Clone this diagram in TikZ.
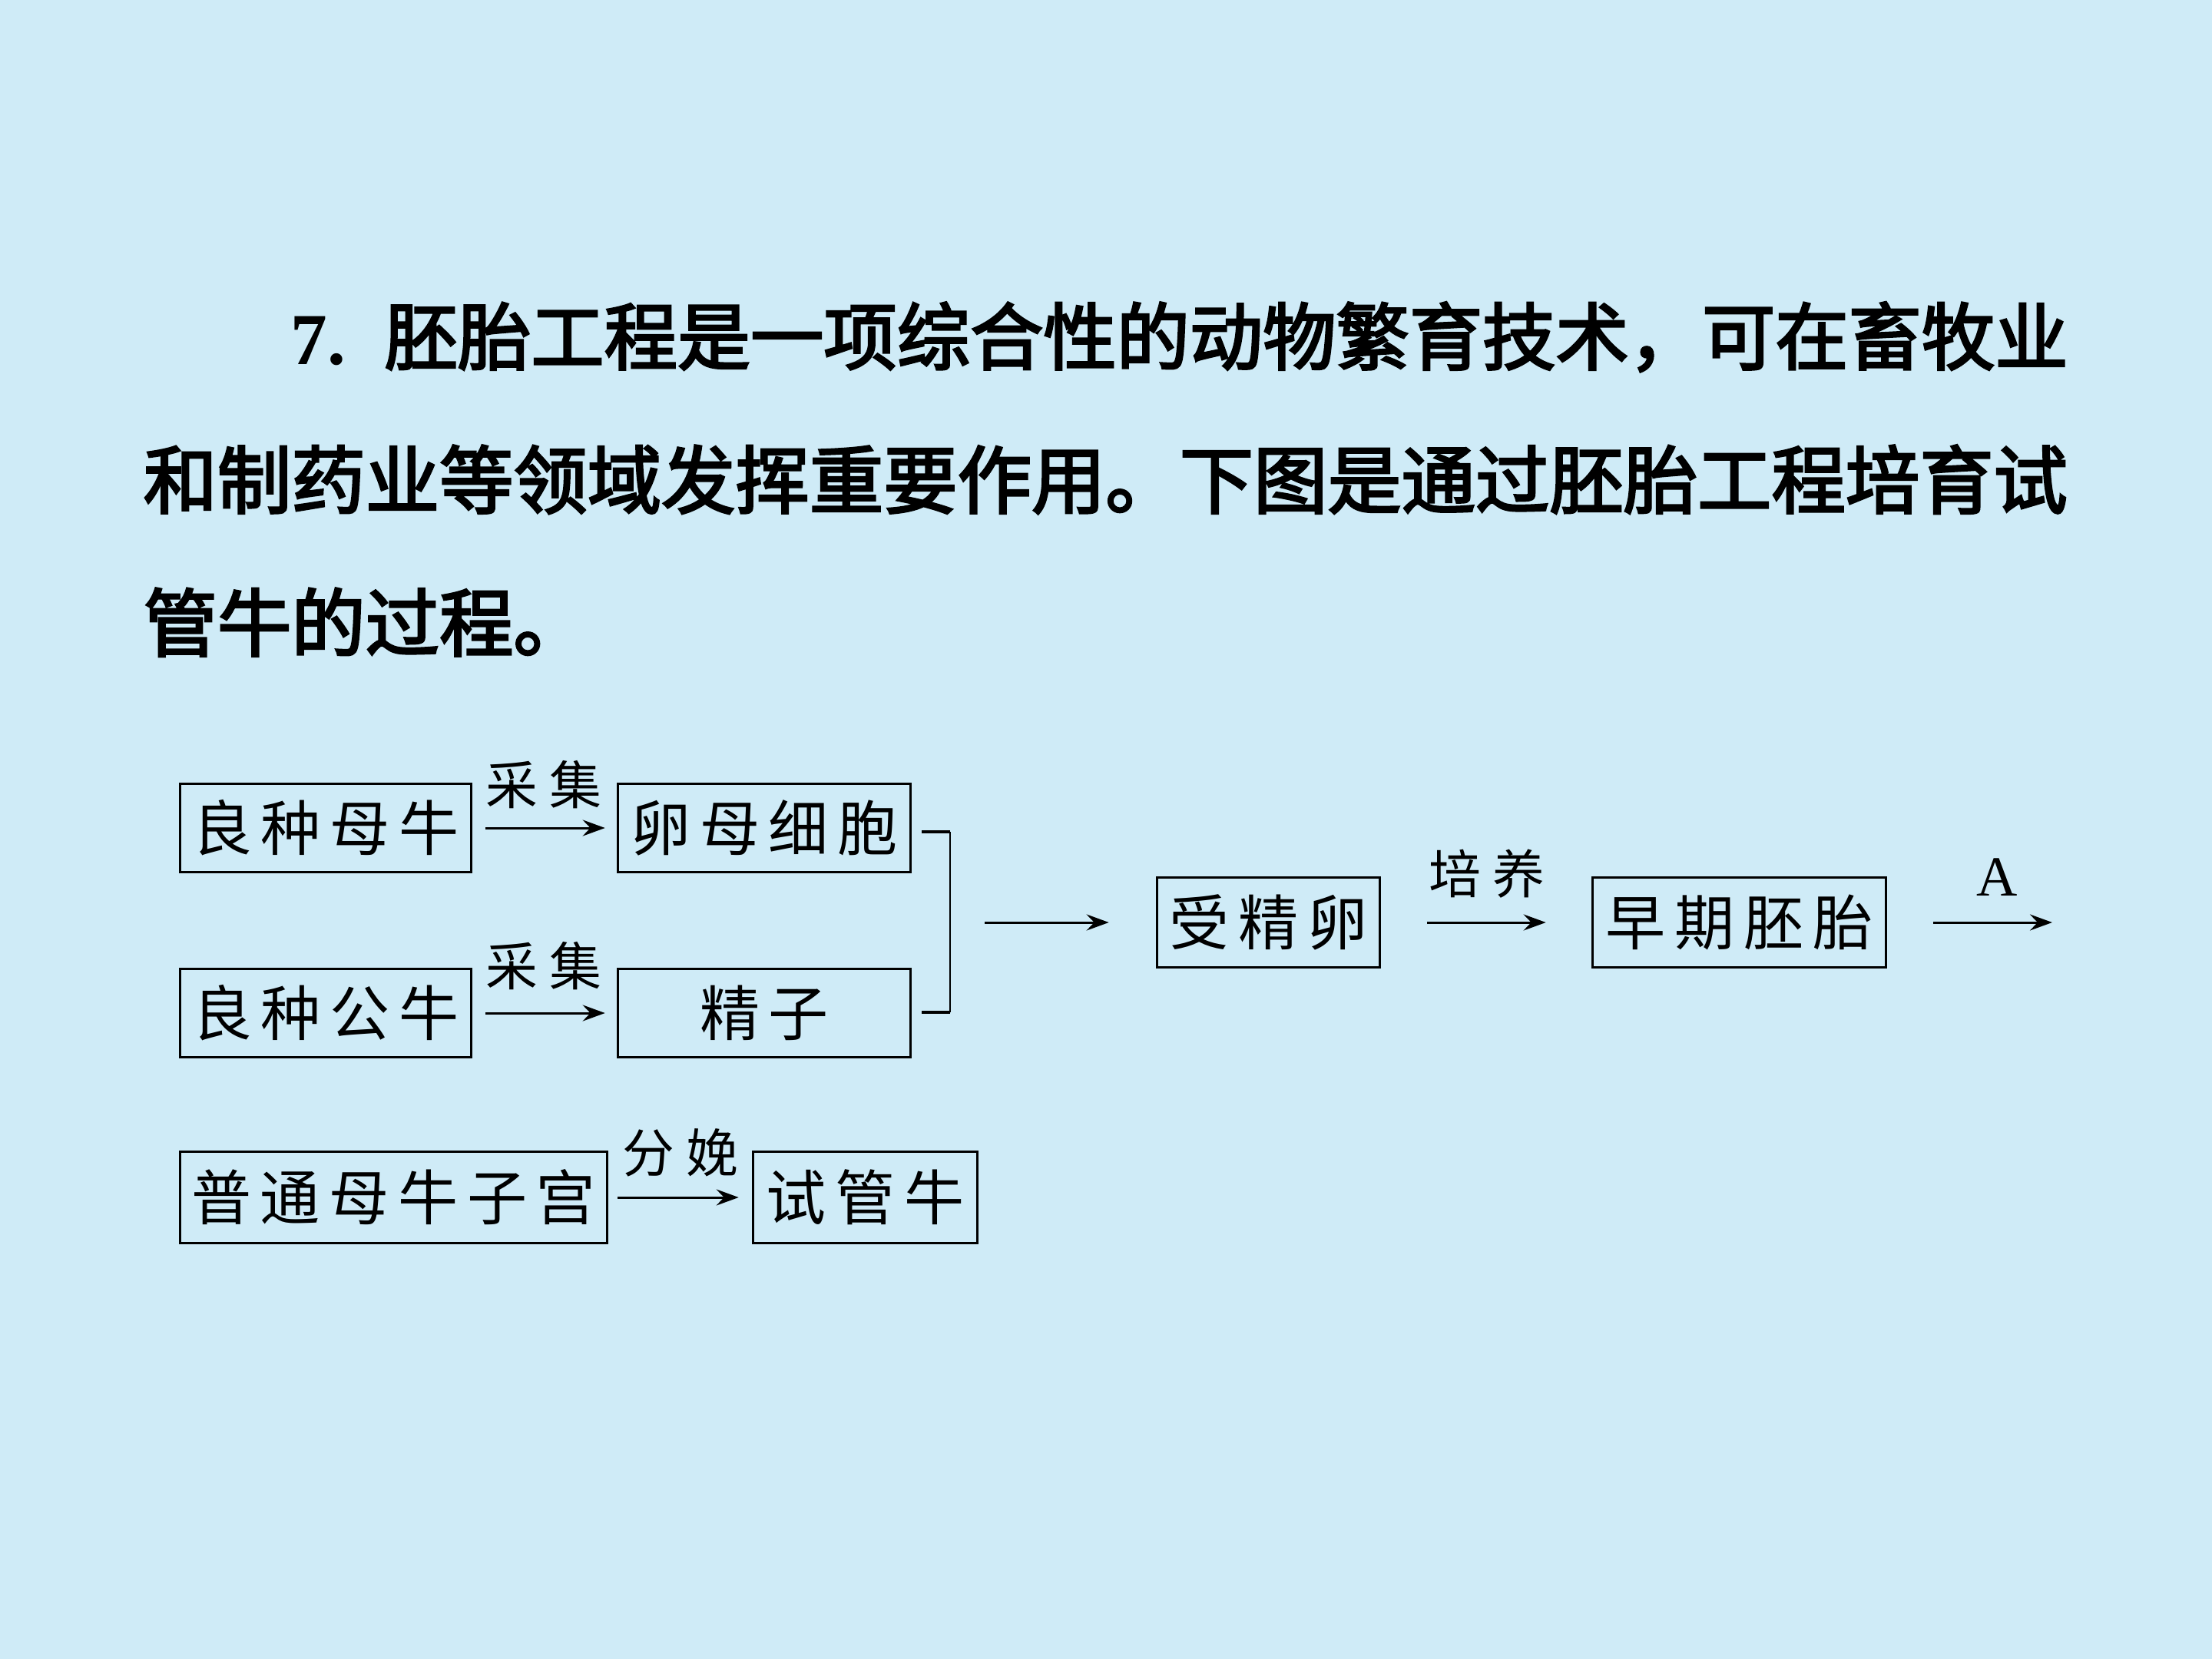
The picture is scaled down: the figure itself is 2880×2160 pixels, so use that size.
\documentclass[tikz,border=0pt]{standalone}
\usepackage{fontspec}
\newfontfamily\cjk{Noto Sans CJK SC}
\newfontfamily\cjkhead{Noto Sans CJK SC}[FakeBold=3]
\newfontfamily\serifA{Liberation Serif}
\usetikzlibrary{arrows.meta,calc}
\definecolor{bgblue}{RGB}{207,235,247}
\newcommand\bxg{\hspace{0.15em}}
\newcommand\lbg{\hspace{0.23em}}
\begin{document}
\begin{tikzpicture}[x=0.01cm,y=-0.01cm,
  box/.style={draw=black, line width=0.95pt, inner sep=0pt, text=black,
    font=\cjk\fontsize{22.2pt}{22.2pt}\selectfont},
  lab/.style={inner sep=0pt, font=\cjk\fontsize{19.3pt}{19.3pt}\selectfont},
  head/.style={inner sep=0pt, anchor=base west, font=\cjkhead\fontsize{27.4pt}{27.4pt}\selectfont},
  arr/.style={-{Stealth[length=0.29cm,width=0.21cm,inset=0.1cm]}, line width=0.85pt},
  tick/.style={line width=1.4pt},
  bar/.style={line width=0.6pt}]
\fill[bgblue] (0,0) rectangle (2880,2160);
\useasboundingbox (0,0) rectangle (2880,2160);

% heading
\node[head, font=\cjkhead\fontsize{27.1pt}{27.1pt}\selectfont] (h1) at (378,474) {{\serifA\bfseries 7.}\hspace{0.53em}胚胎工程是一项综合性的动物繁育技术，可在畜牧业};
\node[head] (h2) at (186,661) {和制药业等领域发挥重要作用。下图是通过胚胎工程培育试};
\node[head] (h3) at (186,847) {管牛的过程。};

% boxes
\node[box, minimum width=3.79cm, minimum height=1.15cm] (b1) at (424,1078) {良\bxg 种\bxg 母\bxg 牛};
\node[box, minimum width=3.81cm, minimum height=1.15cm] (b2) at (995,1078) {卵\bxg 母\bxg 细\bxg 胞};
\node[box, minimum width=3.79cm, minimum height=1.15cm] (b3) at (424,1319) {良\bxg 种\bxg 公\bxg 牛};
\node[box, minimum width=3.81cm, minimum height=1.15cm] (b4) at (995,1319) {精\bxg 子};
\node[box, minimum width=2.90cm, minimum height=1.17cm] (b5) at (1651.5,1201) {受\bxg 精\bxg 卵};
\node[box, minimum width=3.82cm, minimum height=1.17cm] (b6) at (2264.5,1201) {早\bxg 期\bxg 胚\bxg 胎};
\node[box, minimum width=5.56cm, minimum height=1.19cm] (b7) at (512.5,1559) {普\bxg 通\bxg 母\bxg 牛\bxg 子\bxg 宫};
\node[box, minimum width=2.92cm, minimum height=1.19cm] (b8) at (1126.5,1559) {试\bxg 管\bxg 牛};

% arrow labels
\node[lab] (l1) at (708,1022) {采\lbg 集};
\node[lab] (l2) at (708,1258) {采\lbg 集};
\node[lab] (l3) at (1936,1138) {培\lbg 养};
\node[lab] (l4) at (886,1501) {分\lbg 娩};
\node[inner sep=0pt, font=\serifA\fontsize{21pt}{21pt}\selectfont] (l5) at (2600,1142) {A};

% bracket
\coordinate (bt1) at (1200,1083);
\coordinate (bt2) at (1237,1083);
\coordinate (bb1) at (1200,1318);
\coordinate (bb2) at (1237,1318);
\coordinate (bm) at (1282,1201);
\coordinate (aend) at (2672,1201);
\draw[tick] (bt1) -- (bt2);
\draw[tick] (bb1) -- (bb2);
\draw[bar] (bt2) -- (bb2);

% arrows
\draw[arr, shorten <=0.17cm, shorten >=0.15cm] (b1.east) -- (b2.west);
\draw[arr, shorten <=0.17cm, shorten >=0.15cm] (b3.east) -- (b4.west);
\draw[arr, shorten >=0.61cm] (bm) -- (b5.west);
\draw[arr, shorten <=0.60cm, shorten >=0.59cm] (b5.east) -- (b6.west);
\draw[arr, shorten <=0.60cm] (b6.east) -- (aend);
\draw[arr, shorten <=0.12cm, shorten >=0.17cm] (b7.east) -- (b8.west);
\end{tikzpicture}
\end{document}
